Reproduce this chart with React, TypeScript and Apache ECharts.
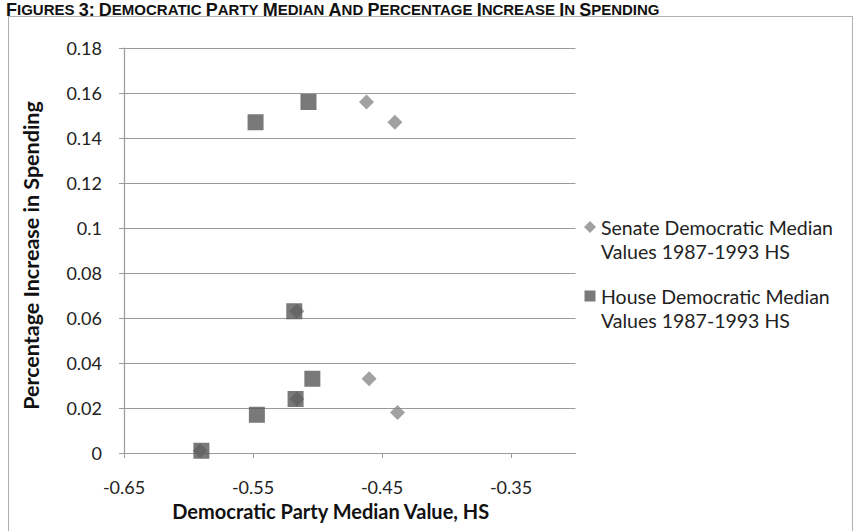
import React, { useEffect, useRef } from "react";
import * as echarts from "echarts";

const senateName = "Senate Democratic Median\nValues 1987-1993 HS";
const houseName = "House Democratic Median\nValues 1987-1993 HS";

const senateX = [-0.462, -0.44, -0.516, -0.46, -0.516, -0.438, -0.591];
const senateY = [0.156, 0.147, 0.063, 0.033, 0.024, 0.018, 0.001];

const houseX = [-0.548, -0.507, -0.518, -0.504, -0.517, -0.547, -0.59];
const houseY = [0.147, 0.156, 0.063, 0.033, 0.024, 0.017, 0.001];

const xAxisTitle = "Democratic Party Median Value, HS";
const yAxisTitle = "Percentage Increase in Spending";
const figureTitle = "FIGURES 3: DEMOCRATIC PARTY MEDIAN AND PERCENTAGE INCREASE IN SPENDING";

const FONT = "Lato";

function smallCaps(s: string): string {
  return s
    .split(" ")
    .map((w) => {
      const first = w.slice(0, w[0] >= "0" && w[0] <= "9" ? 2 : 1);
      const rest = w.slice(first.length);
      return "{b|" + first + "}" + (rest ? "{s|" + rest + "}" : "");
    })
    .join("{s| }");
}

export default function App() {
  const ref = useRef<HTMLDivElement>(null);
  useEffect(() => {
    if (!ref.current) return;
    const chart = echarts.init(ref.current, null, { renderer: "svg" });
    const senateData = senateX.map((x, i) => [x, senateY[i]]);
    const houseData = houseX.map((x, i) => [x, houseY[i]]);
    chart.setOption({
      animation: false,
      backgroundColor: "#ffffff",
      textStyle: { fontFamily: FONT },
      grid: { left: 124, right: 279.5, top: 48, bottom: 78 },
      legend: {
        orient: "vertical",
        left: 579,
        top: 210,
        itemWidth: 12,
        itemHeight: 48,
        itemGap: 21,
        textStyle: { fontFamily: FONT, fontSize: 19.5, color: "#222", lineHeight: 24 },
        data: [
          { name: senateName, icon: "path://M6,6 L12,12 L6,18 L0,12 Z M0,0 L0,0 M12,48 L12,48" },
          { name: houseName, icon: "path://M0.5,6.5 L11.5,6.5 L11.5,17.5 L0.5,17.5 Z M0,0 L0,0 M12,48 L12,48" },
        ],
      },
      xAxis: {
        type: "value",
        min: -0.65,
        max: -0.3,
        interval: 0.1,
        name: xAxisTitle,
        nameLocation: "middle",
        nameGap: 46,
        nameTextStyle: { fontFamily: FONT, fontWeight: "bold", fontSize: 20, color: "#111", padding: [0, 38, 0, 0] },
        axisLine: { show: true, lineStyle: { color: "#9a9a9a", width: 1.2 } },
        axisTick: { show: true, length: 5, lineStyle: { color: "#9a9a9a" } },
        axisLabel: {
          fontFamily: FONT,
          fontSize: 18,
          color: "#222",
          margin: 25,
          showMaxLabel: false,
          formatter: (v: number) => v.toFixed(2),
        },
        splitLine: { show: false },
      },
      yAxis: {
        type: "value",
        min: 0,
        max: 0.18,
        interval: 0.02,
        name: yAxisTitle,
        nameLocation: "middle",
        nameGap: 82,
        nameTextStyle: { fontFamily: FONT, fontWeight: "bold", fontSize: 21.5, color: "#111", padding: [0, 10, 0, 0] },
        axisLine: { show: true, lineStyle: { color: "#9a9a9a", width: 1.2 } },
        axisTick: { show: true, length: 5, lineStyle: { color: "#9a9a9a" } },
        axisLabel: {
          fontFamily: FONT,
          fontSize: 18,
          color: "#222",
          margin: 22,
          formatter: (v: number) => String(parseFloat(v.toFixed(2))),
        },
        splitLine: { show: true, lineStyle: { color: "#9a9a9a", width: 1.2 } },
      },
      series: [
        {
          name: senateName,
          type: "scatter",
          symbol: "diamond",
          symbolSize: 15,
          itemStyle: { color: "#8a8a8a" },
          data: senateData,
          z: 2,
        },
        {
          name: houseName,
          type: "scatter",
          symbol: "rect",
          symbolSize: 16,
          itemStyle: { color: "#585858" },
          data: houseData,
          z: 3,
        },
      ],
      graphic: [
        {
          type: "rect",
          shape: { x: 8.5, y: 16.5, width: 844, height: 530 },
          style: { fill: "none", stroke: "#b0b0b0", lineWidth: 1 },
          silent: true,
        },
        {
          type: "text",
          x: 6,
          y: 0,
          style: {
            text: smallCaps(figureTitle),
            textVerticalAlign: "top",
            textAlign: "left",
            rich: {
              b: { fontFamily: "Liberation Sans", fontWeight: "bold", fontSize: 18, fill: "#111", lineHeight: 19 },
              s: { fontFamily: "Liberation Sans", fontWeight: "bold", fontSize: 15, fill: "#111", lineHeight: 19 },
            },
          },
          silent: true,
        },
      ],
    });
    return () => chart.dispose();
  }, []);
  return (
    <div
      ref={ref}
      style={{ position: "fixed", left: 0, top: 0, width: 855, height: 531 }}
    />
  );
}
